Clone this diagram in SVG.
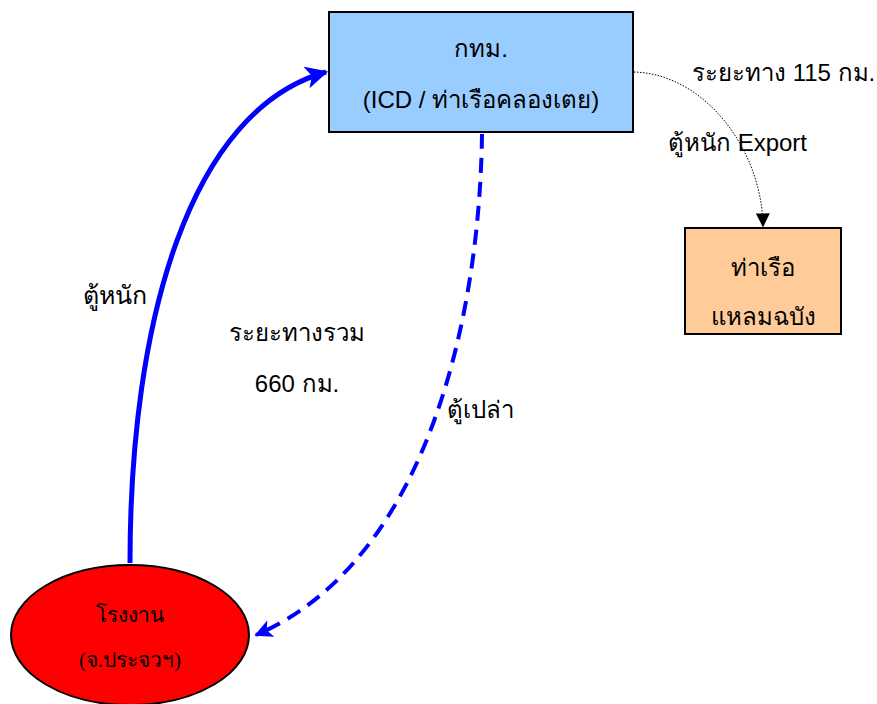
<svg xmlns="http://www.w3.org/2000/svg" width="877" height="704" viewBox="0 0 877 704">
  <style>
    .sans { font-family: "Liberation Sans", "Noto Sans", "DejaVu Sans", sans-serif; font-size: 24px; fill: #000; }
    .serif { font-family: "Liberation Serif", "DejaVu Serif", serif; font-size: 21px; fill: #000; }
    .box { stroke: #000; stroke-width: 2; }
  </style>
  <defs>
    <marker id="arrowBlue" viewBox="0 0 10 10" refX="9" refY="5" markerWidth="4.5" markerHeight="4.5" orient="auto" markerUnits="strokeWidth">
      <path d="M0,0 L10,5 L0,10 L2.5,5 z" fill="#0000ff"/>
    </marker>
    <marker id="arrowBlack" viewBox="0 0 10 10" refX="9" refY="5" markerWidth="14" markerHeight="14" orient="auto" markerUnits="userSpaceOnUse">
      <path d="M0,0 L10,5 L0,10 z" fill="#000"/>
    </marker>
  </defs>

  <rect x="0" y="0" width="877" height="704" fill="#fff"/>

  <!-- connectors -->
  <g id="connectors" fill="none">
    <path id="loaded" d="M130,563 C130,320 190,110 326,72" stroke="#0000ff" stroke-width="5" marker-end="url(#arrowBlue)"/>
    <path id="empty" d="M482,134 C480,310 430,560 256,635" stroke="#0000ff" stroke-width="4" stroke-dasharray="15,9" marker-end="url(#arrowBlue)"/>
    <path id="export" d="M634,72 C705,74 762,150 763,226" stroke="#000" stroke-width="1" stroke-dasharray="1.5,1.5" marker-end="url(#arrowBlack)"/>
  </g>

  <!-- nodes -->
  <g id="bkk">
    <rect class="box" x="329" y="12" width="304" height="120" fill="#99ccff"/>
    <text class="sans" x="481" y="57" text-anchor="middle">กทม.</text>
    <text class="sans" x="481" y="108" text-anchor="middle">(ICD / ท่าเรือคลองเตย)</text>
  </g>

  <g id="laemchabang">
    <rect class="box" x="685" y="228" width="156" height="106" fill="#ffcc99"/>
    <text class="sans" x="763" y="276" text-anchor="middle">ท่าเรือ</text>
    <text class="sans" x="763" y="325" text-anchor="middle">แหลมฉบัง</text>
  </g>

  <g id="factory">
    <ellipse cx="130" cy="635" rx="119" ry="70" fill="#ff0000" stroke="#000" stroke-width="2"/>
    <text class="serif" x="130" y="622" text-anchor="middle">โรงงาน</text>
    <text class="serif" x="130" y="667" text-anchor="middle">(จ.ประจวฯ)</text>
  </g>

  <!-- labels -->
  <g id="labels">
    <text class="sans" x="692" y="81">ระยะทาง 115 กม.</text>
    <text class="sans" x="668" y="151">ตู้หนัก Export</text>
    <text class="serif" x="83" y="304" style="font-size:25px">ตู้หนัก</text>
    <text class="sans" x="297" y="341" text-anchor="middle">ระยะทางรวม</text>
    <text class="sans" x="297" y="392" text-anchor="middle">660 กม.</text>
    <text class="sans" x="447" y="418">ตู้เปล่า</text>
  </g>
</svg>
